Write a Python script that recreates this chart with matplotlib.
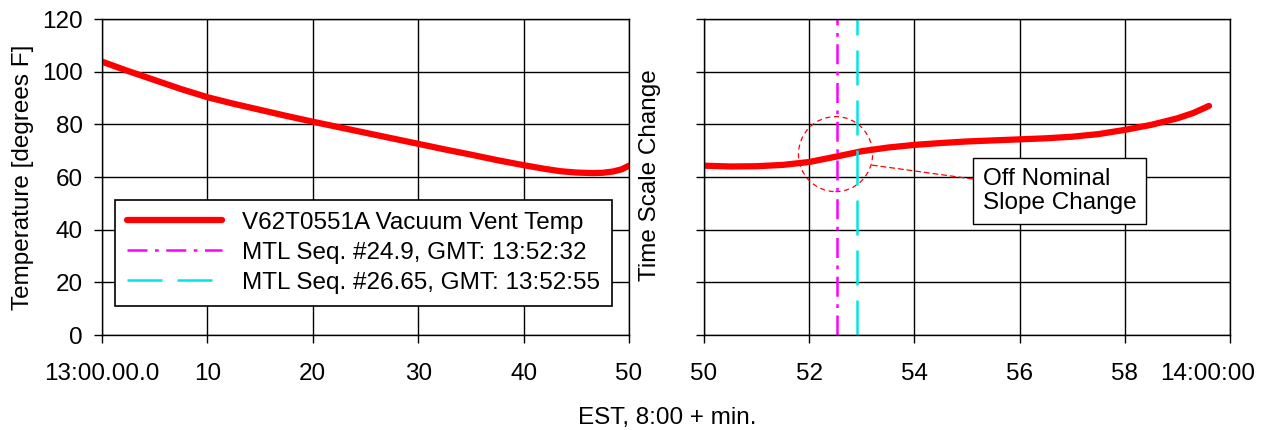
import matplotlib
matplotlib.use("Agg")
import matplotlib.pyplot as plt
from matplotlib.patches import Ellipse
from matplotlib.transforms import ScaledTranslation

# Data
left_min = [0, 2.5, 5, 7.5, 10, 12.5, 15, 17.5, 20, 22.5, 25, 27.5, 30, 32.5,
            35, 37.5, 40, 42, 43.5, 45, 46.5, 47.5, 48.5, 49.3, 50]
left_temp = [103.8, 100.2, 96.8, 93.4, 90.3, 87.8, 85.5, 83.2, 81.0, 78.9,
             76.8, 74.7, 72.6, 70.5, 68.5, 66.4, 64.5, 63.1, 62.2, 61.7,
             61.5, 61.6, 62.1, 62.9, 64.3]

right_min = [50, 50.5, 51, 51.5, 52, 52.5, 53, 53.5, 54, 54.5, 55, 55.5, 56,
             56.5, 57, 57.5, 58, 58.5, 59, 59.3, 59.6]
right_temp = [64.3, 64.0, 64.1, 64.6, 65.7, 67.7, 69.8, 71.2, 72.2, 72.9,
              73.5, 73.9, 74.3, 74.7, 75.3, 76.3, 77.9, 79.8, 82.3, 84.3, 87.0]

event1 = 52 + 32 / 60   # MTL Seq. #24.9, GMT 13:52:32
event2 = 52 + 55 / 60   # MTL Seq. #26.65, GMT 13:52:55

left_ticks = [0, 10, 20, 30, 40, 50]
left_labels = ["13:00.00.0", "10", "20", "30", "40", "50"]
right_ticks = [50, 52, 54, 56, 58, 60]
right_labels = ["50", "52", "54", "56", "58", "14:00:00"]
y_ticks = [0, 20, 40, 60, 80, 100, 120]

FS = 17.5
plt.rcParams["font.family"] = ["Liberation Sans", "DejaVu Sans"]
plt.rcParams["font.size"] = FS

fig = plt.figure(figsize=(12.66, 4.30), dpi=100)
ax1 = fig.add_axes([0.0806, 0.2209, 0.4162, 0.7349])
ax2 = fig.add_axes([0.5561, 0.2209, 0.4155, 0.7349])

for ax in (ax1, ax2):
    ax.set_ylim(0, 120)
    ax.set_yticks(y_ticks)
    ax.grid(True, color="black", linewidth=1.0)
    ax.set_axisbelow(True)
    ax.tick_params(direction="out", length=6, width=1, color="black",
                   labelsize=FS)
    ax.tick_params(axis="x", pad=14)
    ax.tick_params(axis="y", pad=8)
    for s in ax.spines.values():
        s.set_color("black")
        s.set_linewidth(1.0)

# Chart 1
ax1.plot(left_min, left_temp, color="red", linewidth=4.5,
         solid_capstyle="round", label="V62T0551A Vacuum Vent Temp")
ax1.plot([], [], color="magenta", linewidth=1.8, linestyle=(0, (8, 3, 1.5, 3)),
         label="MTL Seq. #24.9, GMT: 13:52:32")
ax1.plot([], [], color="#00e5e5", linewidth=1.8, linestyle=(0, (14, 6)),
         label="MTL Seq. #26.65, GMT: 13:52:55")
ax1.set_xlim(0, 50)
ax1.set_xticks(left_ticks)
ax1.set_xticklabels(left_labels)
ax1.set_ylabel("Temperature [degrees F]", fontsize=FS, labelpad=6)
leg = ax1.legend(loc="lower left", bbox_to_anchor=(0.025, 0.092), fontsize=FS,
                 frameon=True, fancybox=False, borderaxespad=0,
                 handlelength=3.9, handletextpad=0.8, labelspacing=0.33,
                 borderpad=0.5)
leg.get_frame().set_edgecolor("black")
leg.get_frame().set_linewidth(1.2)
leg.get_frame().set_alpha(1)

# Chart 2
ax2.plot(right_min, right_temp, color="red", linewidth=4.5,
         solid_capstyle="round")
ax2.axvline(event1, color="magenta", linewidth=1.8,
            linestyle=(0, (8, 3, 1.5, 3)))
ax2.axvline(event2, color="#00e5e5", linewidth=1.8, linestyle=(0, (14, 6)))
ax2.set_xlim(50, 60)
ax2.set_xticks(right_ticks)
ax2.set_xticklabels(right_labels)
ax2.tick_params(axis="y", labelleft=False)
last = ax2.get_xticklabels()[-1]
last.set_transform(last.get_transform() +
                   ScaledTranslation(-0.22, 0, fig.dpi_scale_trans))

circ = Ellipse((52.5, 68.7), 1.41, 28.5, fill=False, edgecolor="red",
               linestyle=(0, (4, 3)), linewidth=0.9)
ax2.add_patch(circ)
ax2.annotate("Off Nominal\nSlope Change", xy=(53.2, 64.5), xytext=(55.3, 54.7),
             fontsize=FS, ha="left", va="center", linespacing=1.15,
             bbox=dict(boxstyle="square,pad=0.4", fc="white", ec="black",
                       lw=1.0),
             arrowprops=dict(arrowstyle="-", color="red", lw=0.9,
                             linestyle=(0, (4, 3)), shrinkA=0, shrinkB=0))

fig.text(0.5135, 0.593, "Time Scale Change", rotation=90, ha="center",
         va="center", fontsize=FS)
fig.text(0.527, 0.028, "EST, 8:00 + min.", ha="center", va="center",
         fontsize=FS)

fig.savefig("out.png", dpi=100)
